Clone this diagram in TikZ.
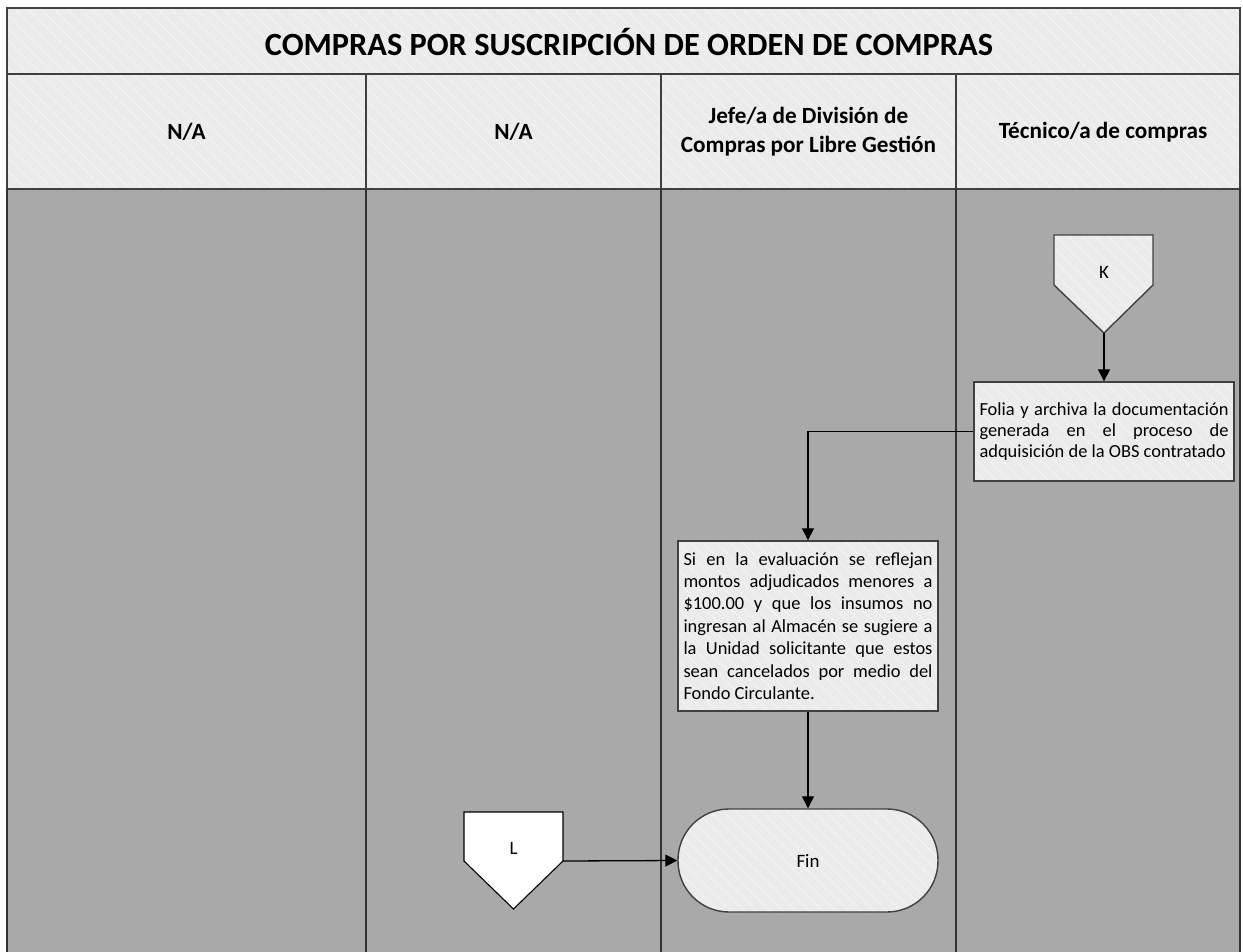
\documentclass[tikz,border=0pt]{standalone}
\usepackage{fontspec}
\setmainfont{Carlito}
\usetikzlibrary{arrows.meta,patterns.meta}
\definecolor{lanegray}{HTML}{A9A9A9}
\definecolor{headfill}{HTML}{EBEBEB}
\definecolor{hatchc}{HTML}{F6F6F6}
\definecolor{borderc}{HTML}{404040}
\definecolor{lanel}{HTML}{333333}
\begin{document}
\begin{tikzpicture}[x=1bp,y=-1bp,
  hatched/.style={preaction={fill=headfill},preaction={pattern={Lines[angle=-45,distance=10bp,line width=0.8bp]},pattern color=hatchc}},
  frameline/.style={draw=borderc,line width=1.4bp},
  laneline/.style={draw=lanel,line width=2bp},
  titletext/.style={font={\fontsize{32.5}{38}\selectfont\bfseries}},
  headtext/.style={font={\fontsize{23.3}{29}\selectfont\bfseries},align=center},
  proc/.style={hatched,draw=borderc,line width=1.4bp,inner xsep=5.5bp,inner ysep=0bp,align=justify},
  bodyfont/.style={font={\fontsize{18.5}{#1}\selectfont\hyphenpenalty=10000\exhyphenpenalty=10000}},
  conn/.style={draw=black,line width=1.3bp,-{Triangle[length=12bp,width=12bp]}},
  smalltext/.style={font={\fontsize{19}{23}\selectfont}}]
\useasboundingbox (0,0) rectangle (1243,952);
% header area
\path[hatched] (7,8) rectangle (1240,189);
% lanes
\fill[lanegray] (7,189) rectangle (1240,952);
% frame and dividers
\draw[frameline] (7,952) -- (7,8) -- (1240,8) -- (1240,952);
\draw[frameline] (7,74) -- (1240,74);
\draw[frameline] (7,189) -- (1240,189);
\draw[frameline] (366,74) -- (366,189);
\draw[frameline] (661,74) -- (661,189);
\draw[frameline] (956,74) -- (956,189);
\draw[laneline] (7,189) -- (7,952);
\draw[laneline] (366,189) -- (366,952);
\draw[laneline] (661,189) -- (661,952);
\draw[laneline] (956,189) -- (956,952);
\draw[laneline] (1240,189) -- (1240,952);
% texts
\node[titletext] (title) at (629,42) {COMPRAS POR SUSCRIPCIÓN DE ORDEN DE COMPRAS};
\node[headtext] (h1) at (186.5,132) {N/A};
\node[headtext] (h2) at (513.5,132) {N/A};
\node[headtext] (h3) at (808.5,132) {Jefe/a de División de\\Compras por Libre Gestión};
\node[headtext] (h4) at (1103,132) {Técnico/a de compras};
% K connector
\path[hatched,draw=borderc,line width=1.4bp] (1054,235) -- (1153,235) -- (1153,285) -- (1104,333) -- (1054,285) -- cycle;
\coordinate (Ktip) at (1104,333);
\node[smalltext] (K) at (1104,272) {K};
% L connector
\path[fill=white,draw=black,line width=1.1bp] (464,812) -- (563,812) -- (563,861) -- (513.5,909) -- (464,861) -- cycle;
\coordinate (Lright) at (563,861);
\node[smalltext] (L) at (513.5,848) {L};
% boxes
\node[proc,minimum width=260bp,minimum height=99bp,text width=249bp,bodyfont=21] (b1) at (1104,431.5)
 {Folia y archiva la documentación\linebreak generada en el proceso de\linebreak adquisición de la OBS contratado};
\node[proc,minimum width=260bp,minimum height=170bp,text width=249bp,bodyfont=22.5] (b2) at (808,626)
 {Si en la evaluación se reflejan\linebreak montos adjudicados menores a\linebreak \$100.00 y que los insumos no\linebreak ingresan al Almacén se sugiere a\linebreak la Unidad solicitante que estos\linebreak sean cancelados por medio del\linebreak Fondo Circulante.};
\node[hatched,draw=borderc,line width=1.4bp,rounded corners=51bp,minimum width=260bp,minimum height=103bp,smalltext] (fin) at (808,860.5) {Fin};
% connectors
\draw[conn] (Ktip) -- (b1.north);
\draw[conn] (b1.west) -| (b2.north);
\draw[conn] (b2.south) -- (fin.north);
\draw[conn] (Lright) -- (fin.west);
\end{tikzpicture}
\end{document}
